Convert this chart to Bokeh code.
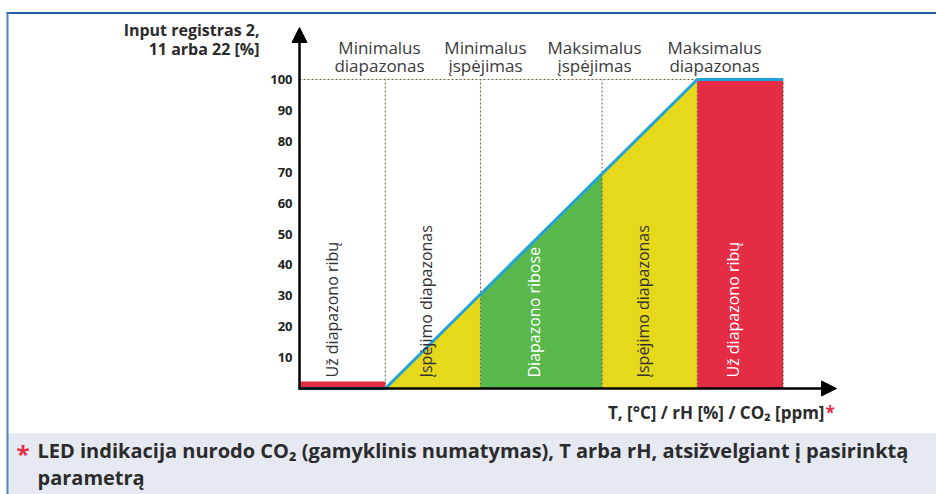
import numpy as np
from bokeh.plotting import figure
from bokeh.models import Range1d, Arrow, NormalHead
from bokeh.core.properties import value
from bokeh.embed import file_html
from bokeh.resources import INLINE

# ---------------- data ----------------
zone_edges = [0, 27.5, 58, 97, 127.5, 155]
zone_labels = ["Už diapazono ribų", "Įspėjimo diapazonas", "Diapazono ribose",
               "Įspėjimo diapazonas", "Už diapazono ribų"]
curve_x = [0, 27.5, 127.5, 155]
curve_y = [0, 0, 100, 100]
low_zone_height = 2.3
y_ticks = [10, 20, 30, 40, 50, 60, 70, 80, 90, 100]
y_tick_labels = ["10", "20", "30", "40", "50", "60", "70", "80", "90", "100"]
header_line1 = ["Minimalus", "Minimalus", "Maksimalus", "Maksimalus"]
header_line2 = ["diapazonas", "įspėjimas", "įspėjimas", "diapazonas"]
y_title_lines = ["Input registras 2,", "11 arba 22 [%]"]
x_title = "T, [°C] / rH [%] / CO₂ [ppm]"
footnote_lines = ["LED indikacija nurodo CO₂ (gamyklinis numatymas), T arba rH, atsižvelgiant į pasirinktą",
                  "parametrą"]

# ---------------- styles / layout ----------------
RED = "#e52c45"
YELLOW = "#e6d81a"
GREEN = "#58b84b"
BLUE = "#1fa3d8"
zone_fill = ["RED", "YELLOW", "GREEN", "YELLOW", "RED"]
zone_text_color = ["#333333", "#333333", "#ffffff", "#333333", "#ffffff"]
cmap = {"RED": RED, "YELLOW": YELLOW, "GREEN": GREEN}
FONT = value("Open Sans")

W, H = 936, 494
OX, OY = 0, 0
X0_PX, Y0_PX = 299, 388
SX, SY = 3.12, 3.09


def X(px):
    return (px - X0_PX) / SX


def Y(py):
    return (Y0_PX - py) / SY


p = figure(width=W, height=H, x_range=Range1d(X(OX), X(OX + W)),
           y_range=Range1d(Y(OY + H), Y(OY)), output_backend="svg",
           toolbar_location=None, x_axis_type=None, y_axis_type=None,
           min_border=0)
p.outline_line_color = None
p.background_fill_color = "white"
p.border_fill_color = "white"

# footnote band and frame lines
p.quad(left=X(7), right=X(OX + W), bottom=Y(OY + H), top=Y(433),
       fill_color="#e6e8f2", line_color=None)
p.segment(x0=X(6), y0=Y(12.5), x1=X(936), y1=Y(12.5), line_color="#1d5e9e", line_width=2)
p.segment(x0=X(7), y0=Y(12), x1=X(7), y1=Y(494), line_color="#4d86b8", line_width=2)

# axes with arrow heads
p.add_layout(Arrow(end=NormalHead(size=15, line_color="black", fill_color="black"),
                   x_start=X(298), y_start=0, x_end=X(836), y_end=0,
                   line_color="black", line_width=2.5))
p.add_layout(Arrow(end=NormalHead(size=15, line_color="black", fill_color="black"),
                   x_start=0, y_start=Y(389), x_end=0, y_end=Y(27),
                   line_color="black", line_width=2.5))

# zone fills
xs, ys, cols = [], [], []
for i in range(len(zone_edges) - 1):
    a, b = zone_edges[i], zone_edges[i + 1]
    if i == 0:
        top_a = top_b = low_zone_height
    else:
        top_a = float(np.interp(a, curve_x, curve_y))
        top_b = float(np.interp(b, curve_x, curve_y))
    xs.append([a, b, b, a])
    ys.append([0, 0, top_b, top_a])
    cols.append(cmap[zone_fill[i]])
p.patches(xs, ys, fill_color=cols, line_color=None)

# dotted guide lines
DOT = "#6b6040"
p.segment(x0=[0], y0=[100], x1=[zone_edges[4]], y1=[100], line_color=DOT,
          line_dash="2 2", line_width=1)
p.segment(x0=zone_edges[1:], y0=[0] * 5, x1=zone_edges[1:], y1=[100] * 5,
          line_color=DOT, line_dash="2 2", line_width=1)

# curve
p.line(curve_x, curve_y, line_color=BLUE, line_width=3)

# rotated zone labels
centers = [(zone_edges[i] + zone_edges[i + 1]) / 2 - 7 / SX for i in range(5)]
centers[0] -= 3 / SX
p.text(x=centers, y=[Y(377)] * 5, text=zone_labels, angle=np.pi / 2,
       text_align="left", text_baseline="middle", text_font_size="16px",
       text_color=zone_text_color, text_font=FONT)

# y tick labels
p.text(x=[X(292)] * len(y_ticks), y=y_ticks, text=y_tick_labels,
       text_align="right", text_baseline="middle", text_font_size="13px",
       text_font_style="bold", text_color="#222222", text_font=FONT)

# column headers
hx = [X(379), X(485), X(594), X(714)]
p.text(x=hx, y=[Y(47)] * 4, text=header_line1, text_align="center",
       text_baseline="alphabetic", text_font_size="17px", text_color="#3a3a3a", text_font=FONT)
p.text(x=hx, y=[Y(65)] * 4, text=header_line2, text_align="center",
       text_baseline="alphabetic", text_font_size="17px", text_color="#3a3a3a", text_font=FONT)

# axis titles
p.text(x=[X(259)] * 2, y=[Y(29), Y(48)], text=y_title_lines, text_align="right",
       text_baseline="alphabetic", text_font_size="16px", text_font_style="bold",
       text_color="#2b2b2b", text_font=FONT)
p.text(x=[X(824)], y=[Y(412)], text=[x_title], text_align="right",
       text_baseline="alphabetic", text_font_size="17px", text_font_style="bold",
       text_color="#2b2b2b", text_font=FONT)
p.text(x=[X(825)], y=[Y(412)], text=["*"], text_align="left",
       text_baseline="alphabetic", text_font_size="17px", text_font_style="bold",
       text_color=RED, text_font=FONT)

# footnote
p.text(x=[X(16)], y=[Y(453)], text=["*"], text_align="left",
       text_baseline="alphabetic", text_font_size="24px", text_font_style="bold",
       text_color=RED, text_font=FONT)
p.text(x=[X(37)] * 2, y=[Y(450), Y(477)], text=footnote_lines, text_align="left",
       text_baseline="alphabetic", text_font_size="20px", text_font_style="bold",
       text_color="#2b2b2b", text_font=FONT)

open("out.html", "w").write(file_html(p, INLINE))
